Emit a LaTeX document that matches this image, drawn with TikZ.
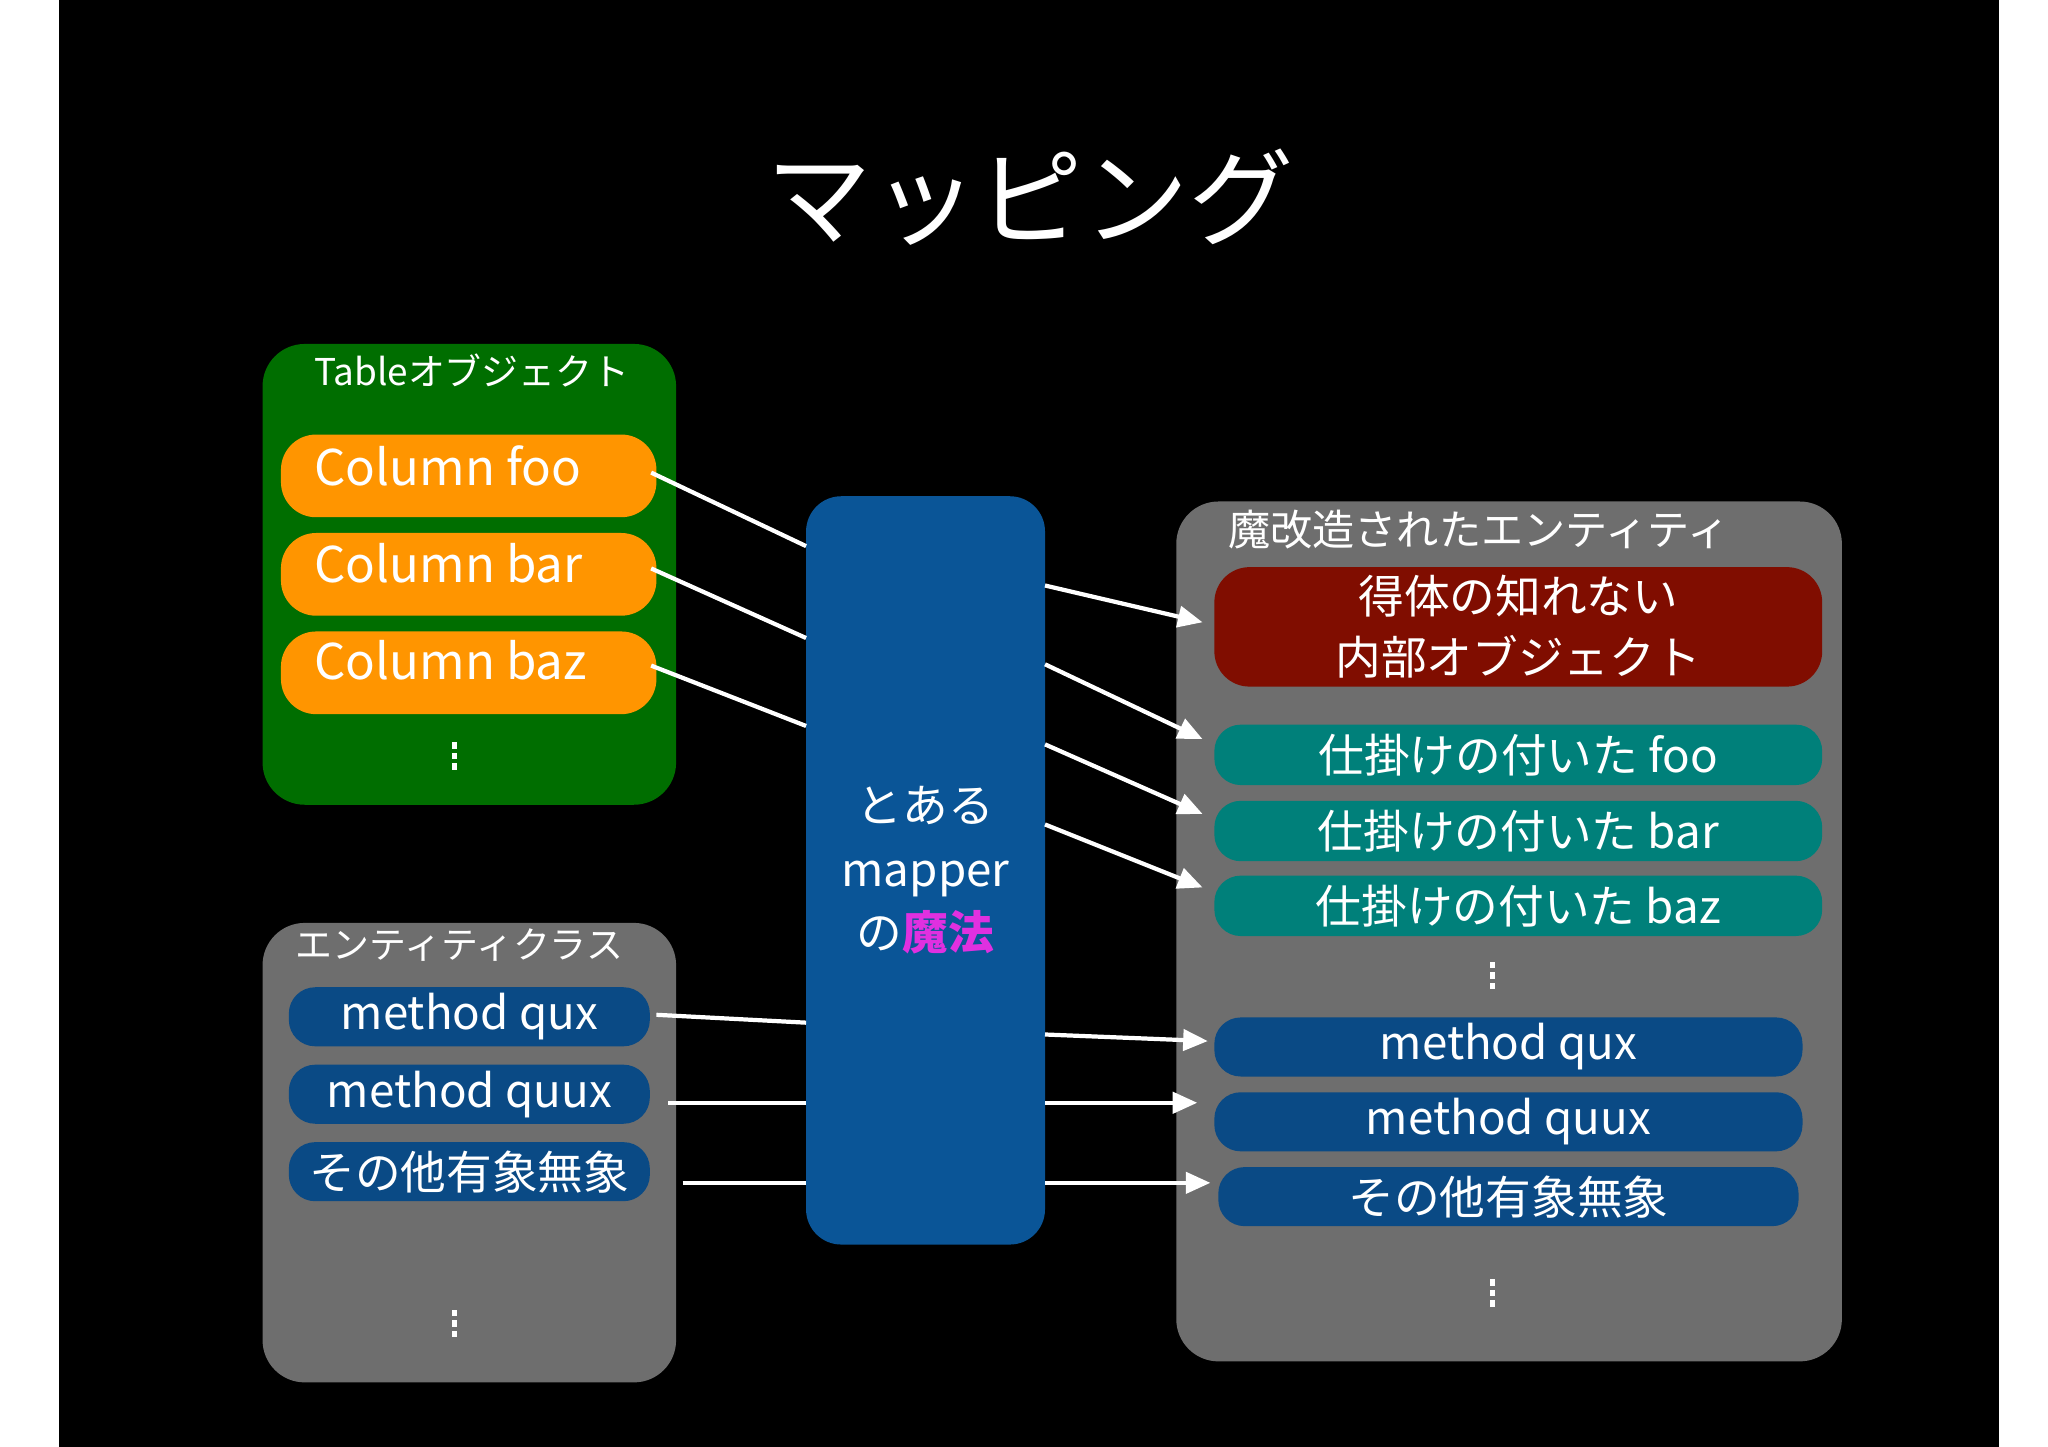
\documentclass[tikz,border=0pt]{standalone}
\usepackage{fontspec}
\setmainfont{Noto Sans CJK JP}
\usetikzlibrary{arrows.meta}
\definecolor{grn}{HTML}{006E00}
\definecolor{org}{HTML}{FF9500}
\definecolor{gry}{HTML}{6E6E6E}
\definecolor{cblue}{HTML}{0A5597}
\definecolor{pblue}{HTML}{0A4A85}
\definecolor{rd}{HTML}{800D00}
\definecolor{tl}{HTML}{00807A}
\definecolor{mag}{HTML}{E030E0}
\newcommand\bx[7]{\node[#6,minimum width={(#4-#2)*0.01313cm},minimum height={(#5-#3)*0.01313cm}] (#1) at ({(#2+#4)/2},{(#3+#5)/2}) {#7};}
\newcommand\mydots[2]{\foreach \k in {-8,0,8} {\fill[white] ({#1-2},{#2+\k-2.5}) rectangle ({#1+2},{#2+\k+2.5});}}
\tikzset{
 box/.style={rounded corners=12pt,inner sep=0pt,text=white},
 pill/.style={rounded corners=7.5pt,inner sep=0pt,text=white,font=\fontsize{13}{16}\selectfont},
 ln/.style={white,line width=1.2pt},
 ar/.style={white,line width=1.2pt,-{Triangle[length=7pt,width=6pt]}},
}
\begin{document}
\begin{tikzpicture}[x=0.01313cm,y=-0.01313cm]
\useasboundingbox (0,0) rectangle (1560,1102);
\fill[white] (0,0) rectangle (1560,1102);
\fill[black] (45,0) rectangle (1523,1102);
\node[text=white,font=\fontsize{30}{36}\selectfont] (title) at (785,150) {マッピング};
% green table box
\bx{tbl}{200}{262}{515}{613}{box,fill=grn}{}
\node[text=white,anchor=west,font=\fontsize{10.5}{13}\selectfont] (tbll) at (230,282) {Tableオブジェクト};
\bx{c1}{214}{331}{500}{394}{box,fill=org,rounded corners=10pt}{}
\bx{c2}{214}{406}{500}{469}{box,fill=org,rounded corners=10pt}{}
\bx{c3}{214}{481}{500}{544}{box,fill=org,rounded corners=10pt}{}
\node[text=white,anchor=west,font=\fontsize{14}{16}\selectfont] (t1) at (230,355) {Column foo};
\node[text=white,anchor=west,font=\fontsize{14}{16}\selectfont] (t2) at (230,429) {Column bar};
\node[text=white,anchor=west,font=\fontsize{14}{16}\selectfont] (t3) at (230,503) {Column baz};
\mydots{346}{576}
% entity class box
\bx{ent}{200}{703}{515}{1053}{box,fill=gry}{}
\node[text=white,font=\fontsize{10.5}{13}\selectfont] (entl) at (350,720) {エンティティクラス};
\bx{m1}{220}{752}{495}{797}{pill,fill=pblue}{method qux}
\bx{m2}{220}{811}{495}{856}{pill,fill=pblue}{method quux}
\bx{m3}{220}{870}{495}{915}{pill,fill=pblue}{その他有象無象}
\mydots{346}{1008}
% mapper
\bx{map}{614}{378}{796}{948}{box,fill=cblue,rounded corners=10pt,align=center,font=\fontsize{13}{18}\selectfont}{とある\\mapper\\の\textcolor{mag}{\bfseries 魔法}}
% right box
\bx{rb}{896}{382}{1403}{1037}{box,fill=gry}{}
\node[text=white,anchor=west,font=\fontsize{12}{15}\selectfont] (rbl) at (926,403) {魔改造されたエンティティ};
\bx{r0}{925}{432}{1388}{523}{pill,fill=rd,rounded corners=10pt,align=center,font=\fontsize{13}{17.5}\selectfont}{得体の知れない\\内部オブジェクト}
\bx{r1}{925}{552}{1388}{598}{pill,fill=tl}{仕掛けの付いた foo}
\bx{r2}{925}{610}{1388}{656}{pill,fill=tl}{仕掛けの付いた bar}
\bx{r3}{925}{667}{1388}{713}{pill,fill=tl}{仕掛けの付いた baz}
\mydots{1137}{743}
\bx{r4}{925}{775}{1373}{820}{pill,fill=pblue}{method qux}
\bx{r5}{925}{832}{1373}{877}{pill,fill=pblue}{method quux}
\bx{r6}{928}{889}{1370}{934}{pill,fill=pblue}{その他有象無象}
\mydots{1137}{985}
% connectors
\coordinate (a1) at (496,360); \coordinate (b1) at (614,416);
\coordinate (a2) at (496,433); \coordinate (b2) at (614,486);
\coordinate (a3) at (496,507); \coordinate (b3) at (614,553);
\coordinate (a4) at (500,773); \coordinate (b4) at (614,779);
\coordinate (a5) at (509,840); \coordinate (b5) at (614,840);
\coordinate (a6) at (520,901); \coordinate (b6) at (614,901);
\foreach \i in {1,...,6} {\draw[ln] (a\i) -- (b\i);}
\coordinate (p1) at (796,446); \coordinate (q1) at (916,474);
\coordinate (p2) at (796,506); \coordinate (q2) at (916,563);
\coordinate (p3) at (796,567); \coordinate (q3) at (916,620);
\coordinate (p4) at (796,628); \coordinate (q4) at (916,676);
\coordinate (p5) at (796,788); \coordinate (q5) at (920,793);
\coordinate (p6) at (796,840); \coordinate (q6) at (912,840);
\coordinate (p7) at (796,901); \coordinate (q7) at (922,901);
\foreach \i in {1,...,7} {\draw[ar] (p\i) -- (q\i);}
\end{tikzpicture}
\end{document}
